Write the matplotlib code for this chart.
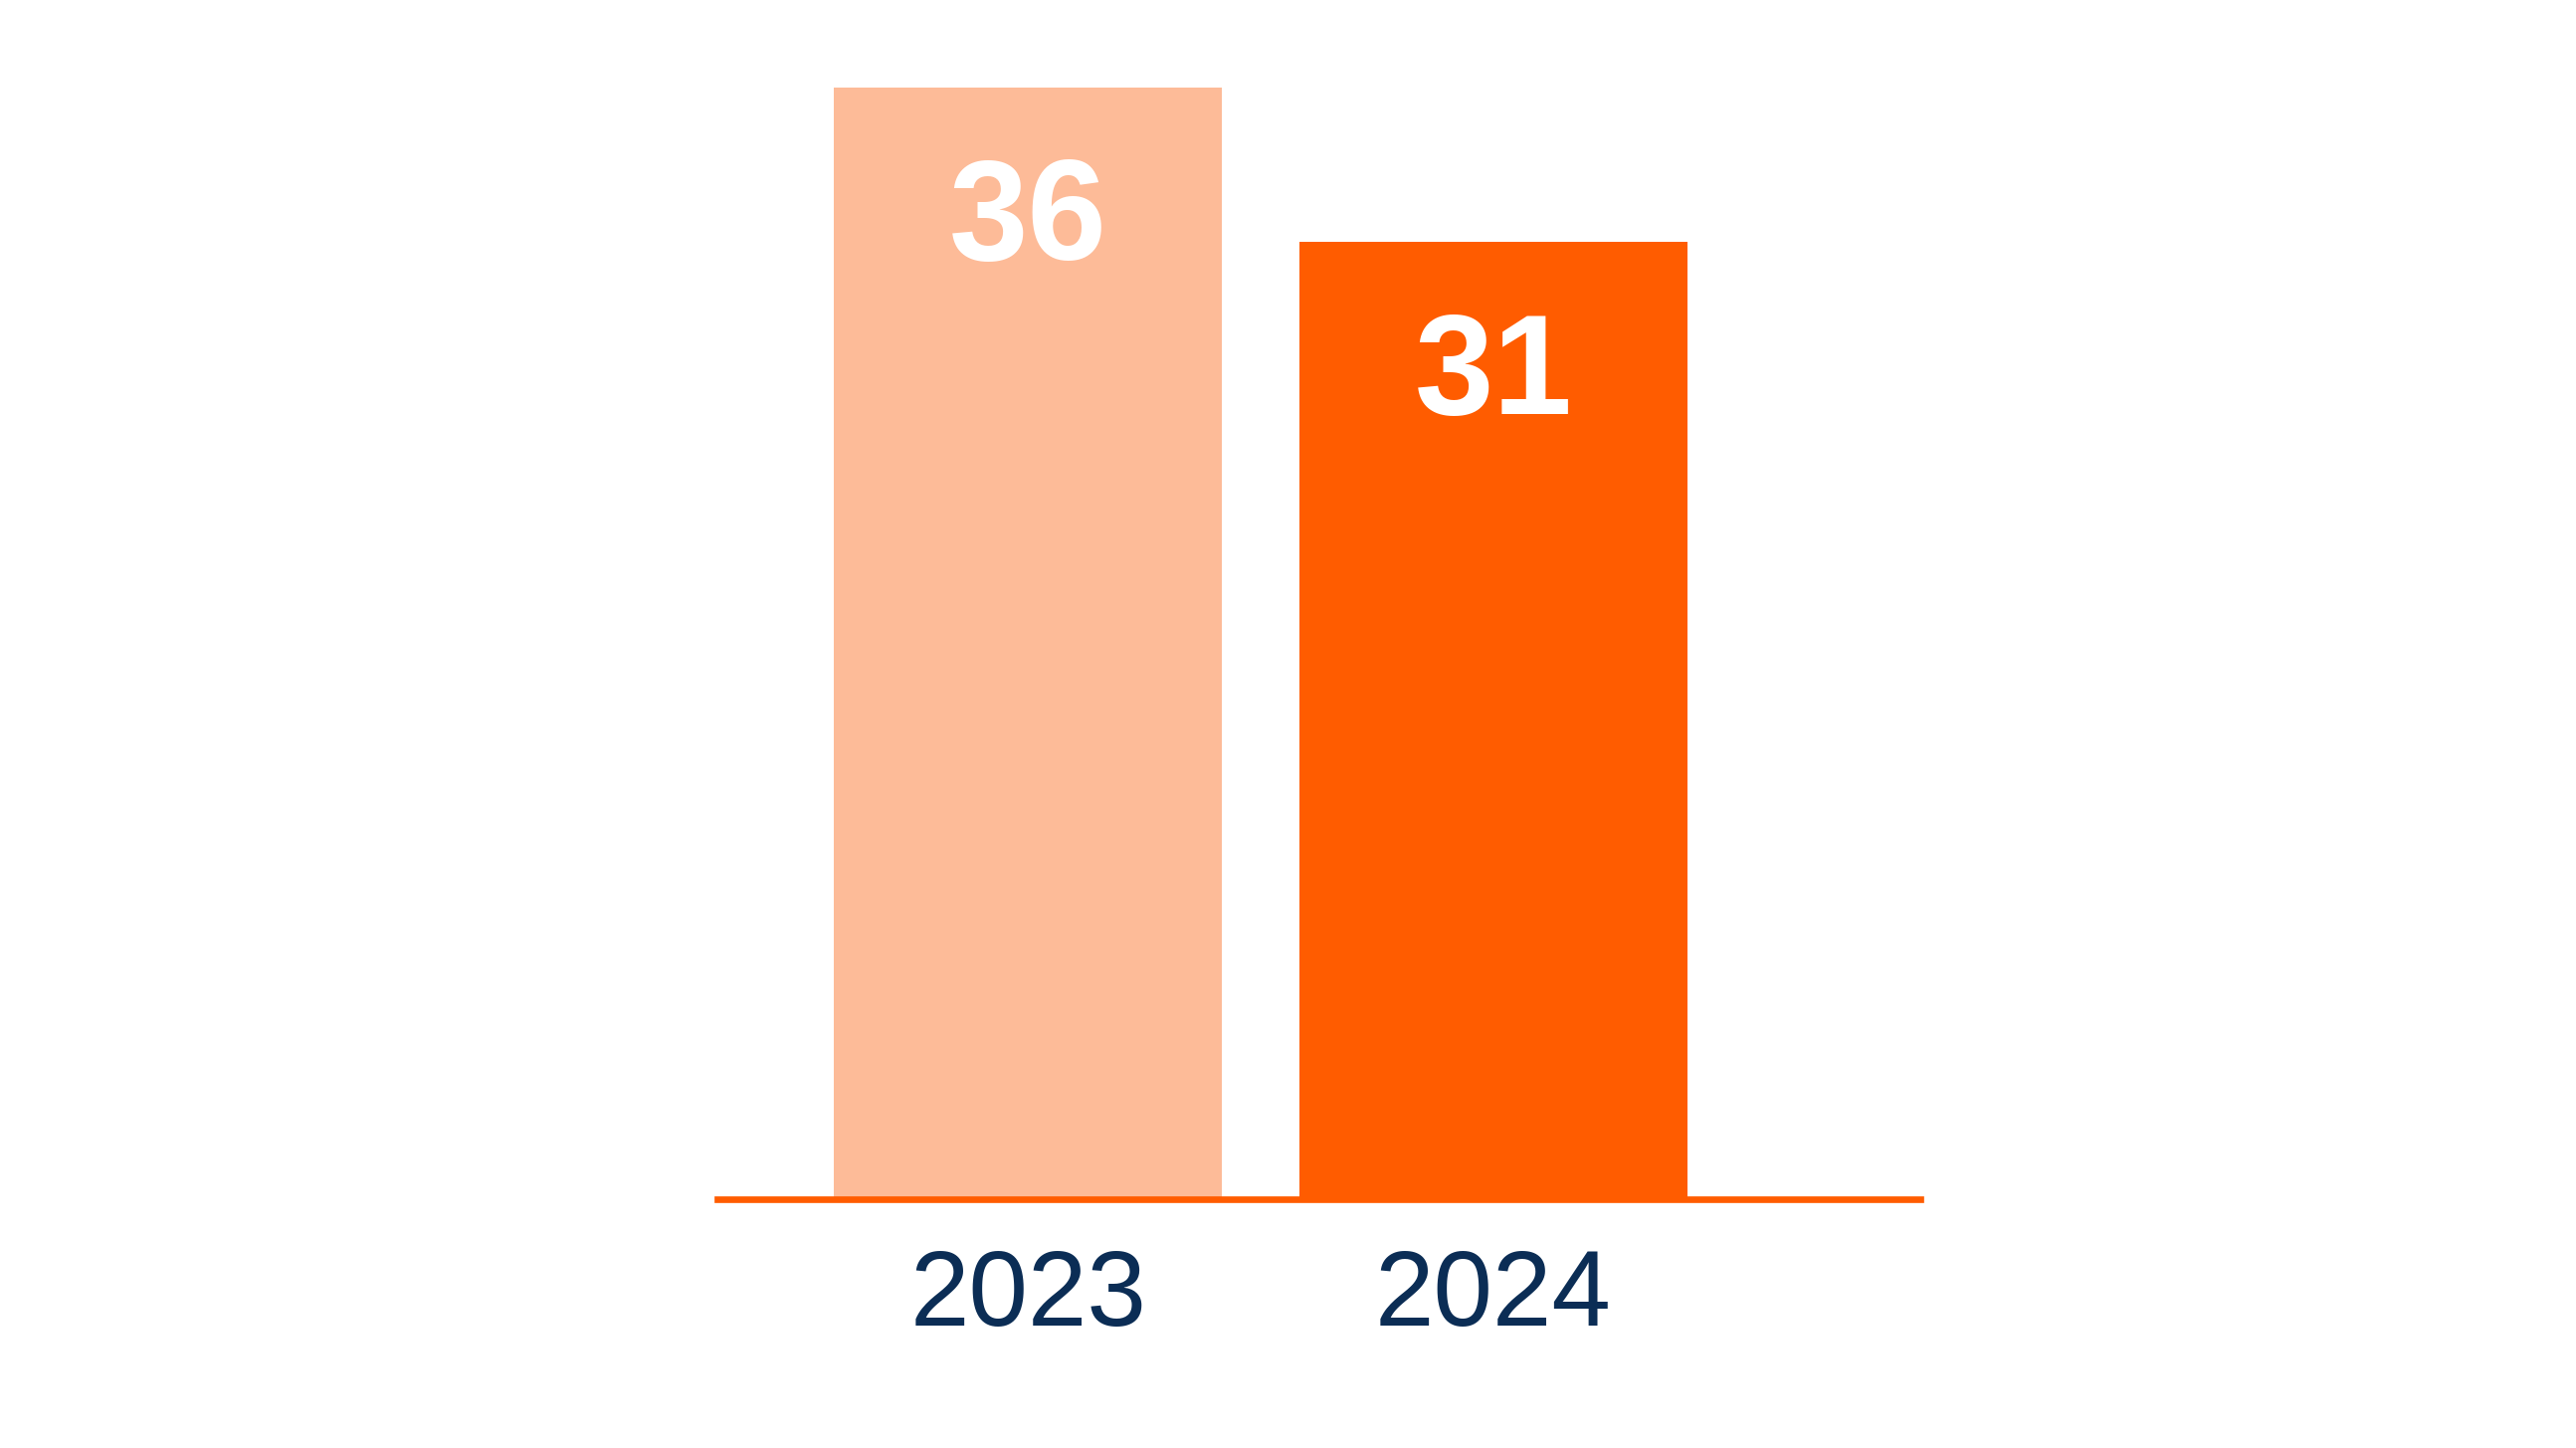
import matplotlib
matplotlib.use("Agg")
import matplotlib.pyplot as plt

# data
years = ["2023", "2024"]
values = [36, 31]
bar_colors = ["#fdbb98", "#ff5c00"]

plt.rcParams['font.family'] = ['Liberation Sans', 'DejaVu Sans']

fig = plt.figure(figsize=(25.89, 14.55), dpi=100)
ax = fig.add_axes([0.2785, 0.1718, 0.467, 0.789])

x = list(range(len(years)))
ax.bar(x, values, width=0.833, color=bar_colors, zorder=2)
ax.set_xlim(-0.667, 1.917)
ax.set_ylim(0, 37)

# baseline
ax.axhline(0, color="#ff5c00", lw=4.8, zorder=3, clip_on=False)

for xi, v, yr in zip(x, values, years):
    ax.annotate(str(v), (xi, v), xytext=(0, -98), textcoords="offset points",
                ha="center", va="center", fontsize=103, fontweight="bold", color="white")
    ax.annotate(yr, (xi, 0), xytext=(0, -71), textcoords="offset points",
                ha="center", va="center", fontsize=77, color="#0b2d55",
                annotation_clip=False)

ax.axis("off")
fig.savefig("out.png", dpi=100, facecolor="white")
